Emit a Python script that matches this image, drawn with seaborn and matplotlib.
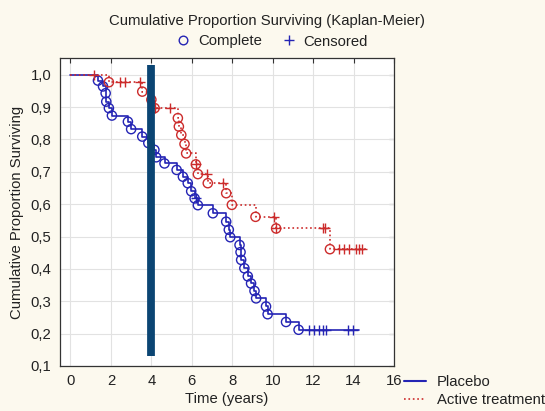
import numpy as np
import pandas as pd
import matplotlib
matplotlib.use("Agg")
import matplotlib.pyplot as plt
from matplotlib.lines import Line2D
import seaborn as sns

# Placebo group: event times (years) and cumulative survival after each event
placebo_event_t = [1.36, 1.61, 1.74, 1.77, 1.90, 2.05, 2.84, 3.00, 3.55, 3.85,
                   4.15, 4.24, 4.65, 5.25, 5.56, 5.80, 5.97, 6.14, 6.30, 7.04,
                   7.70, 7.83, 7.90, 8.36, 8.41, 8.44, 8.60, 8.77, 8.93, 9.10,
                   9.18, 9.67, 9.75, 10.66, 11.28]
placebo_event_s = [0.982, 0.964, 0.943, 0.917, 0.897, 0.874, 0.855, 0.832, 0.809, 0.789,
                   0.768, 0.745, 0.726, 0.706, 0.685, 0.665, 0.640, 0.618, 0.597, 0.572,
                   0.546, 0.521, 0.498, 0.474, 0.452, 0.428, 0.402, 0.377, 0.355, 0.332,
                   0.309, 0.284, 0.260, 0.236, 0.212]
placebo_censor_t = [6.20, 11.81, 12.06, 12.30, 12.47, 12.64, 13.70, 13.95]
placebo_end_t = 14.28

# Active treatment group
active_event_t = [1.90, 3.55, 4.00, 4.16, 5.31, 5.36, 5.48, 5.64, 5.72, 6.20,
                  6.30, 6.79, 7.70, 7.98, 9.15, 10.17, 12.83]
active_event_s = [0.977, 0.948, 0.923, 0.897, 0.866, 0.840, 0.814, 0.786, 0.757, 0.723,
                  0.693, 0.665, 0.634, 0.598, 0.561, 0.525, 0.461]
active_censor_t = [1.17, 2.43, 2.68, 3.42, 4.16, 4.90, 6.20, 6.76, 7.53, 10.08,
                   10.17, 12.47, 12.60, 13.29, 13.54, 13.79, 14.10, 14.26, 14.44]
active_end_t = 14.60

x_ticks = [0, 2, 4, 6, 8, 10, 12, 14, 16]
y_ticks = [0.1, 0.2, 0.3, 0.4, 0.5, 0.6, 0.7, 0.8, 0.9, 1.0]
y_tick_labels = ["0,1", "0,2", "0,3", "0,4", "0,5", "0,6", "0,7", "0,8", "0,9", "1,0"]

# Highlighted time point
highlight_t = 4.0
highlight_low, highlight_high = 0.13, 1.03

BLUE = "#2424b4"
RED = "#cc2b2b"
NAVY = "#0b4573"
BG = "#fcf9ee"
FS = 10.7


def step_frame(event_t, event_s, end_t):
    t = [0.0] + list(event_t) + [end_t]
    s = [1.0] + list(event_s) + [event_s[-1]]
    return pd.DataFrame({"time": t, "surv": s})


def level_at(times, event_t, event_s):
    idx = np.searchsorted(event_t, times, side="right")
    full = np.concatenate([[1.0], event_s])
    return full[idx]


sns.set_style("white")
plt.rcParams["font.family"] = ["Liberation Sans", "DejaVu Sans"]
plt.rcParams["font.size"] = FS

fig = plt.figure(figsize=(5.45, 4.11), dpi=100, facecolor=BG)
ax = fig.add_axes([0.110, 0.1095, 0.613, 0.7495])
ax.set_facecolor("white")

groups = [
    ("Placebo", placebo_event_t, placebo_event_s, placebo_censor_t, placebo_end_t, BLUE, "-"),
    ("Active treatment", active_event_t, active_event_s, active_censor_t, active_end_t, RED, ":"),
]

for name, ev_t, ev_s, cen_t, end_t, col, ls in groups:
    steps = step_frame(ev_t, ev_s, end_t)
    sns.lineplot(data=steps, x="time", y="surv", ax=ax, color=col, linestyle=ls,
                 linewidth=1.2, drawstyle="steps-post", estimator=None, sort=False,
                 zorder=3)
    events = pd.DataFrame({"time": ev_t, "surv": ev_s})
    sns.scatterplot(data=events, x="time", y="surv", ax=ax, marker="o", s=44,
                    color=col, facecolor="none", edgecolor=col, linewidth=1.0,
                    zorder=4)
    cens = pd.DataFrame({"time": cen_t,
                         "surv": level_at(np.array(cen_t), np.array(ev_t), np.array(ev_s))})
    sns.scatterplot(data=cens, x="time", y="surv", ax=ax, marker="+", s=55,
                    color=col, linewidth=1.0, zorder=4)

ax.vlines(highlight_t, highlight_low, highlight_high, color=NAVY, linewidth=5.6, zorder=6)

ax.set_xlim(-0.52, 16)
ax.set_ylim(0.1, 1.052)
ax.set_xticks(x_ticks)
ax.set_yticks(y_ticks)
ax.set_yticklabels(y_tick_labels)
ax.grid(True, color="#e2e2e2", linewidth=0.8, zorder=0)
ax.set_axisbelow(True)
for sp in ax.spines.values():
    sp.set_color("#333333")
    sp.set_linewidth(0.9)
ax.tick_params(axis="x", direction="in", top=True, length=3.5, width=0.8,
               colors="#333333", labelcolor="#222222", labelsize=FS, pad=6)
ax.tick_params(axis="y", direction="out", length=3, width=0.8,
               colors="#333333", labelcolor="#222222", labelsize=FS, pad=3)
right = ax.secondary_yaxis("right")
right.set_yticks(y_ticks)
right.tick_params(direction="in", length=3.5, width=0.8, labelright=False, colors="#333333")
right.spines["right"].set_visible(False)

ax.set_xlabel("Time (years)", fontsize=FS, color="#222222", labelpad=3)
ax.set_ylabel("Cumulative Proportion Surviving", fontsize=FS, color="#222222")
ax.yaxis.set_label_coords(-0.108, 0.5)

fig.text(0.4905, 1 - 20.5 / 411, "Cumulative Proportion Surviving (Kaplan-Meier)",
         ha="center", va="center", fontsize=FS, color="#222222")

top_handles = [
    Line2D([], [], ls="", marker="o", mfc="none", mec=BLUE, ms=6.2, mew=1.0),
    Line2D([], [], ls="", marker="+", mec=BLUE, ms=7, mew=1.0),
]
fig.legend(top_handles, ["Complete", "Censored"], loc="center",
           bbox_to_anchor=(0.4985, 1 - 41.5 / 411), ncol=2, frameon=False,
           handlelength=1.0, handletextpad=0.5, columnspacing=1.3,
           borderpad=0, fontsize=FS, labelcolor="#222222")

bottom_handles = [
    Line2D([], [], color=BLUE, ls="-", lw=1.5),
    Line2D([], [], color=RED, ls=":", lw=1.2),
]
fig.legend(bottom_handles, ["Placebo", "Active treatment"], loc="upper left",
           bbox_to_anchor=(404 / 545, 1 - 375 / 411), frameon=False,
           handlelength=1.5, handletextpad=0.7, labelspacing=0.25,
           borderpad=0, borderaxespad=0, fontsize=FS, labelcolor="#222222")

fig.savefig("out.png", dpi=100, facecolor=BG)
